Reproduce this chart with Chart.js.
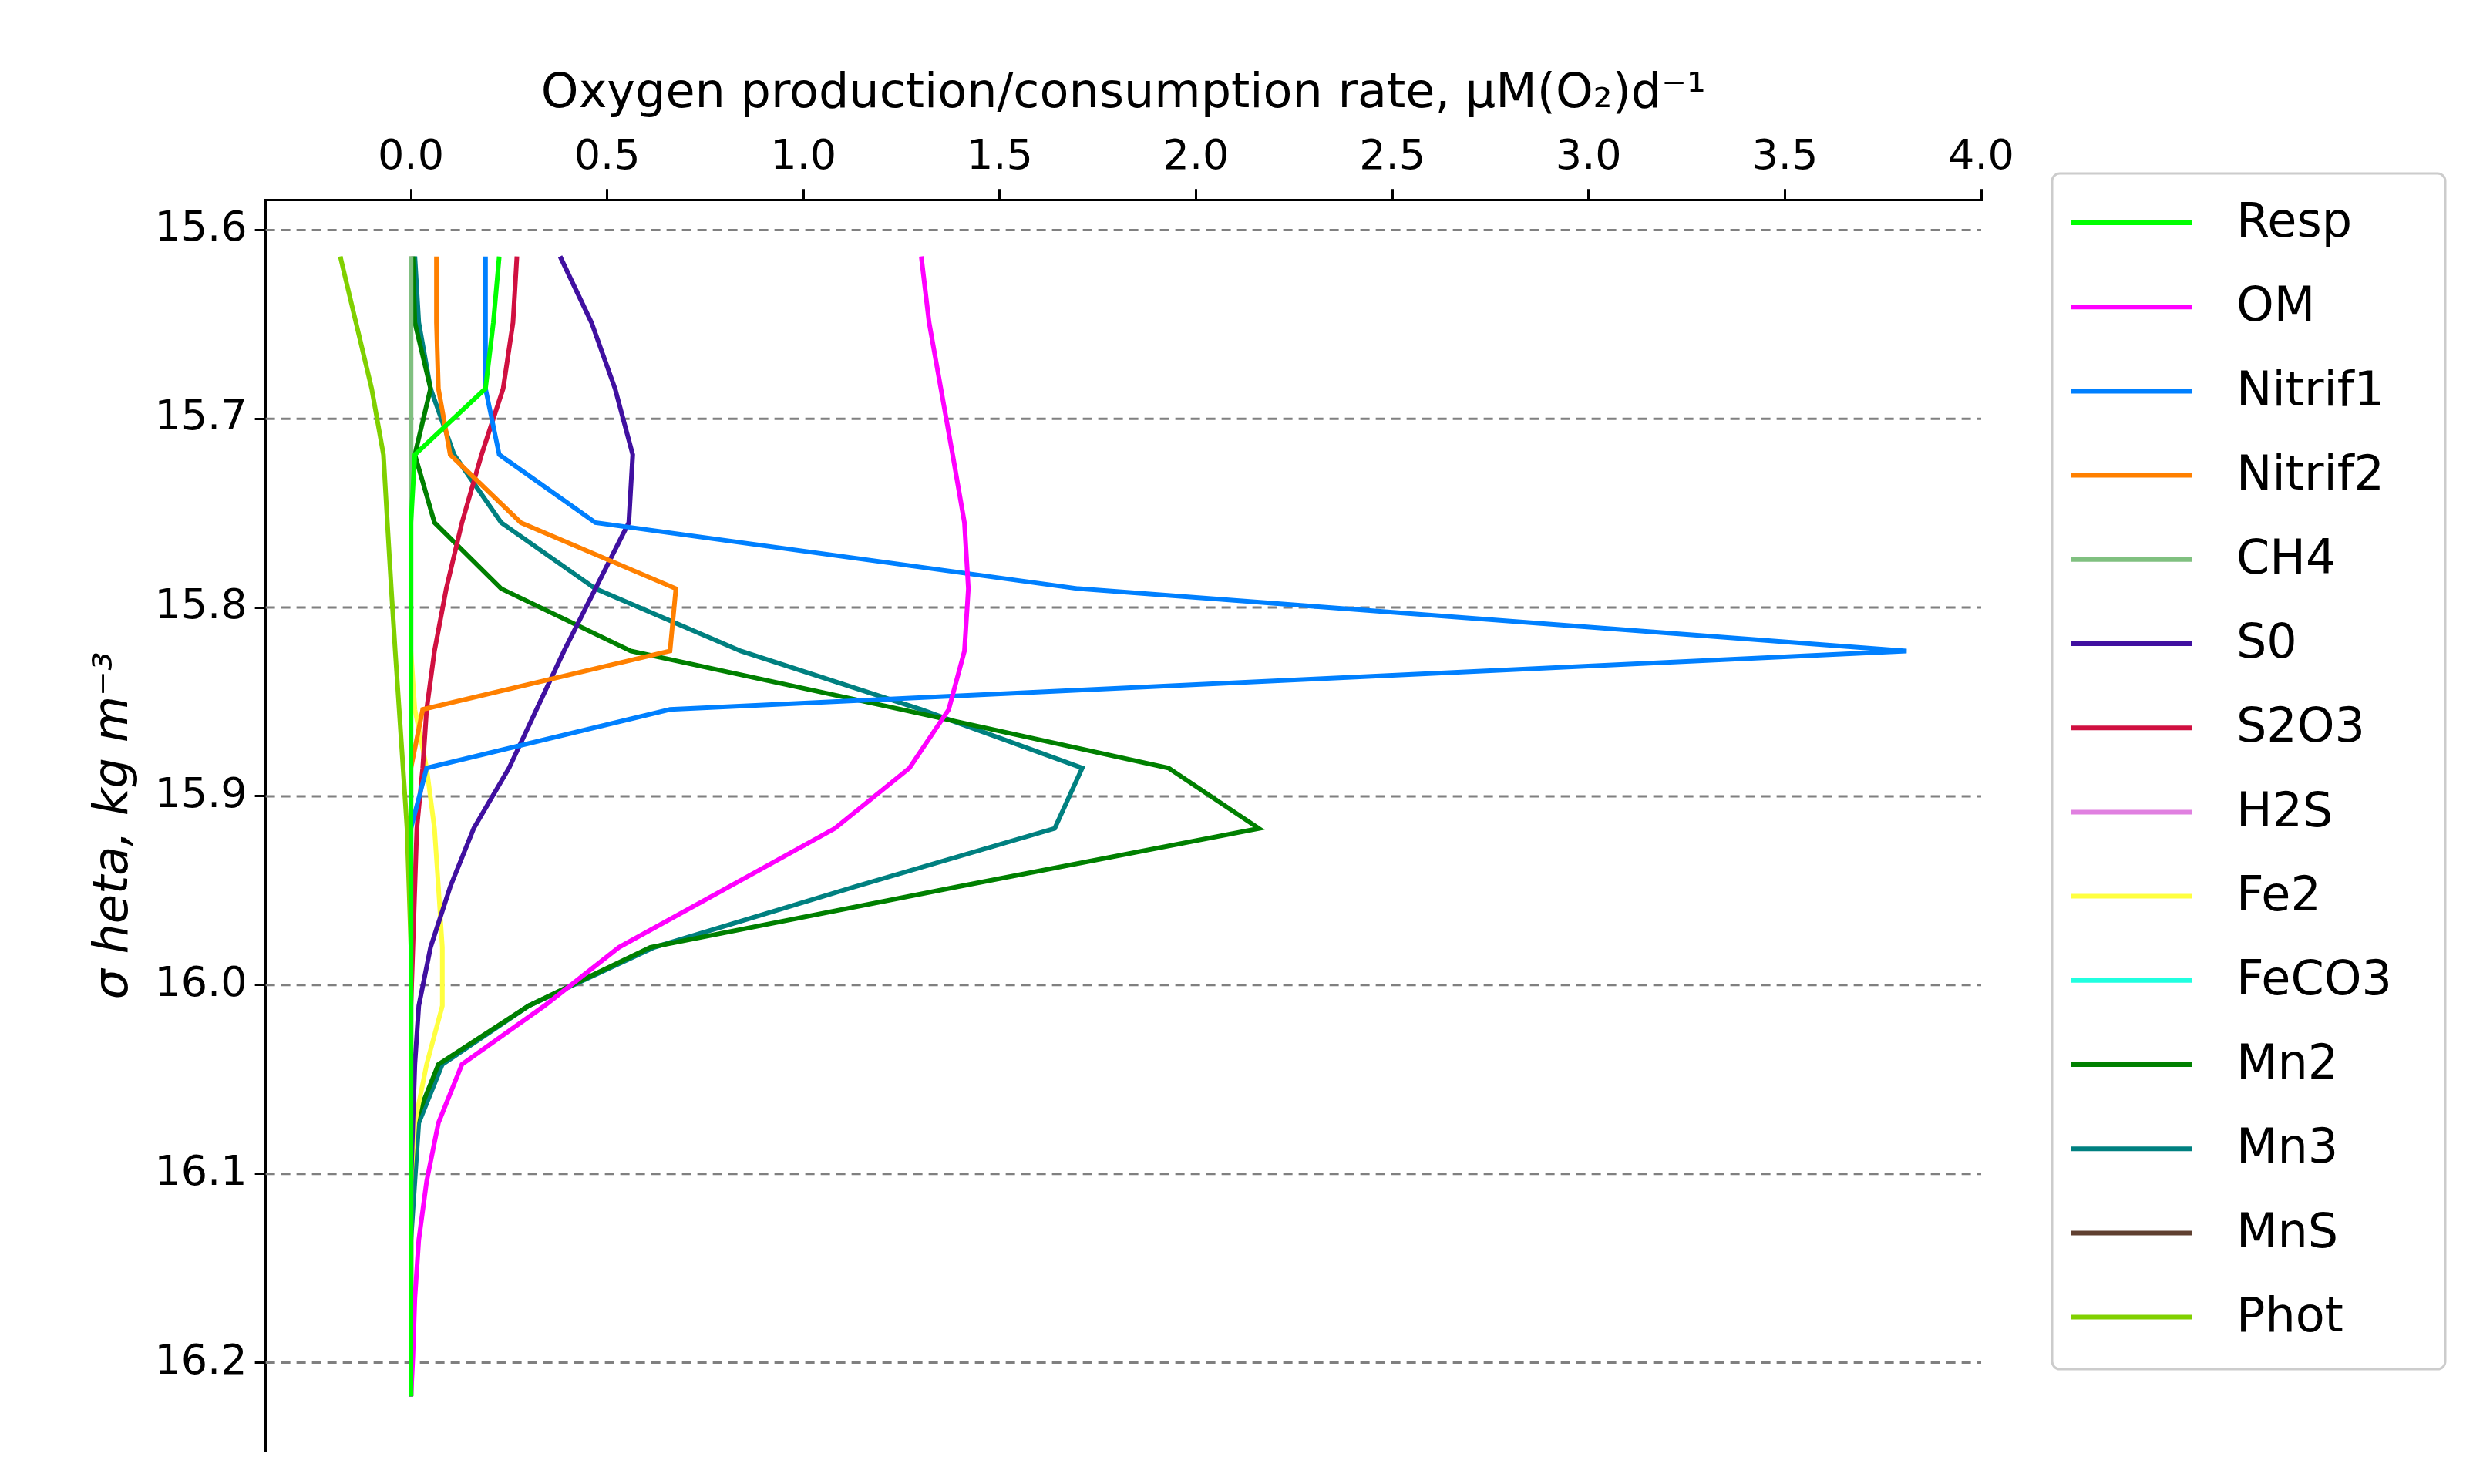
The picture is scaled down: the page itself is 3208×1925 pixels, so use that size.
<!DOCTYPE html>
<html><head><meta charset="utf-8">
<script src="https://cdn.jsdelivr.net/npm/chart.js@4/dist/chart.umd.min.js"></script>
<style>html,body{margin:0;background:#fff}#w{width:3208px;height:1925px}</style>
</head><body><div id="w"><canvas id="c"></canvas></div>
<script>
const sigma = [15.614,15.649,15.684,15.719,15.755,15.790,15.823,15.854,15.885,15.917,15.948,15.980,16.011,16.042,16.073,16.104,16.135,16.166,16.197,16.218];
const Resp   = [0.225,0.21,0.19,0.01,0,0,0,0,0,0,0,0,0,0,0,0,0,0,0,0];
const OM     = [1.30,1.32,1.35,1.38,1.41,1.42,1.41,1.37,1.27,1.08,0.81,0.53,0.34,0.13,0.07,0.04,0.02,0.01,0.005,0];
const Nitrif1= [0.19,0.19,0.19,0.225,0.47,1.70,3.81,0.66,0.04,0,0,0,0,0,0,0,0,0,0,0];
const Nitrif2= [0.065,0.065,0.07,0.10,0.28,0.675,0.66,0.03,0,0,0,0,0,0,0,0,0,0,0,0];
const CH4    = sigma.map(()=>0);
const S0     = [0.38,0.46,0.52,0.565,0.555,0.47,0.39,0.32,0.25,0.16,0.10,0.05,0.02,0.01,0.005,0,0,0,0,0];
const S2O3   = [0.27,0.26,0.235,0.18,0.13,0.09,0.06,0.04,0.03,0.015,0.01,0.005,0,0,0,0,0,0,0,0];
const H2S    = sigma.map(()=>0);
const Fe2    = [0,0,0,0,0,0,0,0.01,0.04,0.06,0.07,0.08,0.08,0.04,0.01,0,0,0,0,0];
const FeCO3  = sigma.map(()=>0);
const Mn2    = [0.005,0.01,0.05,0.01,0.06,0.23,0.56,1.25,1.93,2.16,1.39,0.61,0.30,0.07,0.01,0,0,0,0,0];
const Mn3    = [0.01,0.02,0.05,0.11,0.23,0.47,0.84,1.30,1.71,1.64,1.13,0.62,0.30,0.08,0.02,0.01,0,0,0,0];
const MnS    = sigma.map(()=>0);
const Phot   = [-0.18,-0.14,-0.10,-0.07,-0.06,-0.05,-0.04,-0.03,-0.02,-0.01,-0.005,0,0,0,0,0,0,0,0,0];
const names  = ['Resp','OM','Nitrif1','Nitrif2','CH4','S0','S2O3','H2S','Fe2','FeCO3','Mn2','Mn3','MnS','Phot'];
const series = [Resp,OM,Nitrif1,Nitrif2,CH4,S0,S2O3,H2S,Fe2,FeCO3,Mn2,Mn3,MnS,Phot];
const colors = ['#00ff00','#ff00ff','#0080ff','#ff8000','#80c080','#4010a0','#d01040','#e080e0','#ffff40','#20ffe0','#008000','#008080','#604030','#80d000'];
const yTicks = [15.6,15.7,15.8,15.9,16.0,16.1,16.2];
const xTicks = [0,0.5,1,1.5,2,2.5,3,3.5,4];

const datasets = names.map((n,i)=>({label:n,data:sigma.map((s,j)=>({x:series[i][j],y:s})),
  borderColor:colors[i],backgroundColor:colors[i],borderWidth:6,pointRadius:0,fill:false,tension:0}));

const gridPlugin={id:'g',beforeDatasetsDraw(ch){const c=ch.ctx,a=ch.chartArea,y=ch.scales.y;
  c.save();c.strokeStyle='#808080';c.lineWidth=3;c.setLineDash([12,8]);
  yTicks.forEach(v=>{const p=y.getPixelForValue(v);c.beginPath();c.moveTo(a.left,p);c.lineTo(a.right,p);c.stroke();});
  c.restore();},
 afterDraw(ch){const c=ch.ctx;c.save();c.strokeStyle='#cccccc';c.lineWidth=3;
  c.beginPath();c.roundRect(2662,225,510,1551,10);c.fillStyle='rgba(255,255,255,0.8)';c.fill();c.stroke();
  c.font='62px "DejaVu Sans"';c.textBaseline='middle';c.fillStyle='#000';
  names.forEach((n,i)=>{const yy=289+i*109.2;c.strokeStyle=colors[i];c.lineWidth=6;
    c.beginPath();c.moveTo(2687,yy);c.lineTo(2844,yy);c.stroke();c.fillText(n,2901,yy+2);});
  c.restore();}};

Chart.defaults.font.family='DejaVu Sans';
new Chart(document.getElementById('c'),{type:'line',data:{datasets},plugins:[gridPlugin],
 options:{responsive:true,maintainAspectRatio:false,animation:false,
  layout:{padding:{left:108,top:82,right:638,bottom:40}},
  plugins:{legend:{display:false},tooltip:{enabled:false}},
  scales:{
   x:{type:'linear',position:'top',min:-0.37,max:4.0,
     afterBuildTicks:s=>{s.ticks=xTicks.map(v=>({value:v}));},
     ticks:{font:{size:54},color:'#000',callback:v=>v.toFixed(1),padding:8,maxRotation:0},
     grid:{drawOnChartArea:false,drawTicks:true,tickLength:14,color:'#000',lineWidth:3},
     border:{display:true,color:'#000',width:3},
     title:{display:true,text:'Oxygen production/consumption rate, μM(O₂)d⁻¹',font:{size:62},color:'#000',padding:{bottom:4}}},
   y:{type:'linear',reverse:true,min:15.584,max:16.247,
     afterBuildTicks:s=>{s.ticks=yTicks.map(v=>({value:v}));},
     ticks:{font:{size:54},color:'#000',callback:v=>v.toFixed(1),padding:10},
     grid:{drawOnChartArea:false,drawTicks:true,tickLength:14,color:'#000',lineWidth:3},
     border:{display:true,color:'#000',width:3},
     title:{display:true,text:'σ heta, kg m⁻³',font:{size:62,style:'italic'},color:'#000'}}
  }}});
</script></body></html>
